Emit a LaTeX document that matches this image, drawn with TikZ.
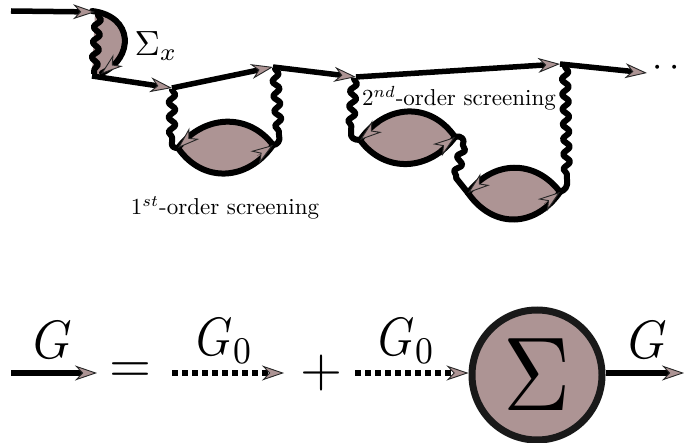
\documentclass[tikz,border=0pt]{standalone}
\usetikzlibrary{arrows.meta,decorations.pathmorphing,shapes.geometric}
\definecolor{mauve}{RGB}{173,148,148}
\tikzset{
 prop/.style={line width=5.5pt,black,-{Stealth[length=22pt,width=15pt,inset=7pt,line width=.9pt,fill=mauve,color=black!85]}},
 tiponly/.style={prop,line width=0.1pt},
 dotprop/.style={prop,line width=6.5pt,dash pattern=on 6pt off 4pt},
 arcline/.style={line width=6pt,black,line cap=round},
 link/.style={line width=6pt,black,line cap=round,line join=round},
 wig/.style={line width=6pt,black,line join=round,decorate,decoration={snake,amplitude=3.4pt,segment length=15pt,pre length=1pt,post length=1pt}},
 lbl/.style={inner sep=0pt,black},
 bub/.style={fill=mauve,draw=none}
}
\begin{document}
\begin{tikzpicture}[x=1pt,y=-1pt]
\useasboundingbox (0,0) rectangle (684,443);
% vertices
\coordinate (s) at (11,11);
\coordinate (a) at (95,12);
\coordinate (b) at (92,76);
\coordinate (c) at (172,88);
\coordinate (d) at (273,67);
\coordinate (e) at (356,77);
\coordinate (f) at (560,64);
\coordinate (g) at (647,73);
\coordinate (c1) at (178,148);
\coordinate (d1) at (273,145);
\coordinate (e1) at (360,140);
\coordinate (m1) at (455,137);
\coordinate (m2) at (468,193);
\coordinate (f1) at (560,192);
% exchange lobe
\fill[mauve] (a) .. controls (134,20) and (130,60) .. (100,74) -- (b) -- cycle;
\draw[arcline] (92,11) .. controls (134,16) and (134,58) .. (102,73);
% bubbles
\fill[bub] (c1) .. controls +(25,-33) and +(-25,-33) .. (d1) .. controls +(-25,36) and +(25,36) .. (c1);
\fill[bub] (e1) .. controls +(25,-36) and +(-25,-36) .. (m1) .. controls +(-25,34) and +(25,34) .. (e1);
\fill[bub] (m2) .. controls +(25,-33) and +(-25,-33) .. (f1) .. controls +(-25,36) and +(25,36) .. (m2);
\draw[arcline] (d1) .. controls +(-25,-33) and +(25,-33) .. (c1);
\draw[arcline] (c1) .. controls +(25,36) and +(-25,36) .. (d1);
\draw[arcline] (m1) .. controls +(-25,-36) and +(25,-36) .. (e1);
\draw[arcline] (e1) .. controls +(25,34) and +(-25,34) .. (m1);
\draw[arcline] (f1) .. controls +(-25,-33) and +(25,-33) .. (m2);
\draw[arcline] (m2) .. controls +(25,36) and +(-25,36) .. (f1);
% wiggles
\draw[wig] (98,14) -- (94,74);
\draw[wig] (172,89) -- (172,142);
\draw[link] (172,142) .. controls (171,147) and (174,148) .. (c1);
\draw[wig] (275,68) -- (279,135);
\draw[link] (279,135) .. controls (281,141) and (277,145) .. (d1);
\draw[wig] (354,78) -- (351,132);
\draw[link] (351,132) .. controls (350,138) and (354,140) .. (e1);
\draw[link] (m1) .. controls (462,135) and (465,140) .. (463,144);
\draw[wig] (463,144) -- (456,178);
\draw[link] (456,178) -- (m2);
\draw[wig] (565,66) -- (567,180);
\draw[link] (567,180) .. controls (568,187) and (565,190) .. (f1);
% propagators
\draw[prop] (s) -- (a);
\draw[prop] (b) -- (c);
\draw[prop] (c) -- (d);
\draw[prop] (d) -- (e);
\draw[prop] (e) -- (f);
\draw[prop] (f) -- (g);
% bubble tips
\draw[tiponly] (197,131) -- (c1);
\draw[tiponly] (257,156) -- (d1);
\draw[tiponly] (380,124) -- (e1);
\draw[tiponly] (439,149) -- (m1);
\draw[tiponly] (488,177) -- (m2);
\draw[tiponly] (544,204) -- (f1);
\draw[tiponly] (116,62) -- (101,74);
% labels
\node[lbl] (sx) at (156,46) {\scalebox{3.5}{$\Sigma_x$}};
\node[lbl] (t1) at (225,208) {\scalebox{2.3}{$1^{st}$-order screening}};
\node[lbl] (t2) at (459,98) {\scalebox{2.3}{$2^{nd}$-order screening}};
\node[lbl] (dots) at (666,68) {\scalebox{3.7}{$\cdot\,\cdot$}};
% equation
\coordinate (l0) at (11,373);
\coordinate (l1) at (97,373);
\coordinate (l2) at (172,373);
\coordinate (l3) at (284,373);
\coordinate (l4) at (355,373);
\coordinate (r0) at (684,373);
\node[circle,draw=black!90,line width=7pt,fill=mauve,minimum size=130pt,inner sep=0pt] (S) at (537,375) {\scalebox{9.3}[10.5]{$\Sigma$}};
\coordinate (Sw) at (S.west |- l4);
\coordinate (Se) at (S.east |- r0);
\draw[prop] (l0) -- (l1);
\draw[dotprop] (l2) -- (l3);
\draw[dotprop] (l4) -- (Sw);
\draw[prop] (Se) -- (r0);
\node[lbl] (g1) at (53,340) {\scalebox{4.9}[5.4]{$G$}};
\node[lbl] (g2) at (225,341) {\scalebox{4.6}[5.4]{$G_0$}};
\node[lbl] (g3) at (407,341) {\scalebox{4.6}[5.4]{$G_0$}};
\node[lbl] (g4) at (648,340) {\scalebox{4.9}[5.4]{$G$}};
\node[lbl] (eq) at (130,373) {\scalebox{5.4}{$=$}};
\node[lbl] (pl) at (321,373) {\scalebox{5.4}{$+$}};
\end{tikzpicture}
\end{document}
